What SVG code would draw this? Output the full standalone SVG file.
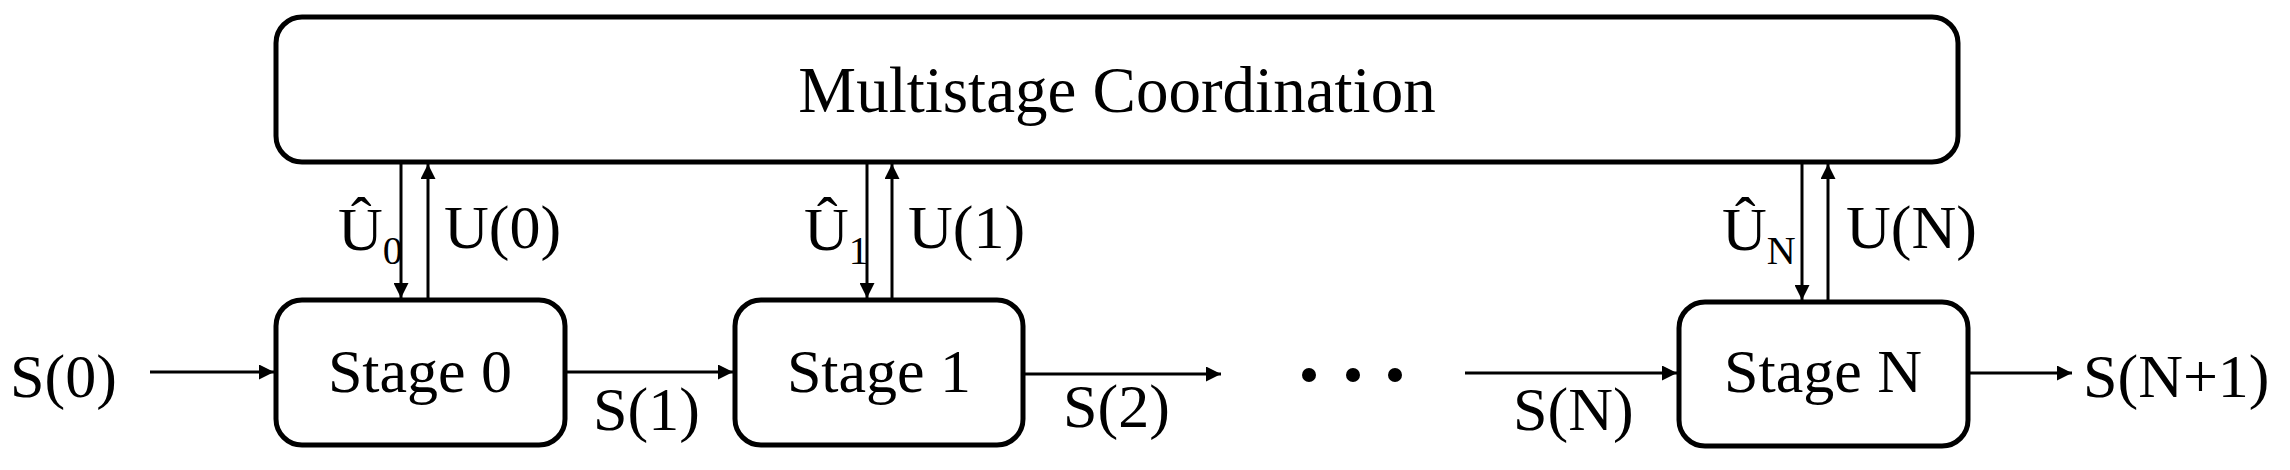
<svg xmlns="http://www.w3.org/2000/svg" width="2290" height="470" viewBox="0 0 2290 470">
<style>
.box{fill:#fff;stroke:#000;stroke-width:5}
.ln{stroke:#000;stroke-width:3;fill:none}
text{font-family:"Liberation Serif","Times New Roman",serif;font-size:62px;fill:#000}
.sub{font-size:40px}
</style>
<defs>
<marker id="ah" viewBox="0 0 10 10" refX="10" refY="5" markerWidth="6" markerHeight="5" markerUnits="strokeWidth" orient="auto"><path d="M0,0L10,5L0,10z" fill="#000"/></marker>
</defs>
<g id="coord"><rect class="box" x="276" y="17" width="1682" height="145" rx="26"/><text x="1117" y="112" text-anchor="middle" style="font-size:65px">Multistage Coordination</text></g>
<g id="stage0"><rect class="box" x="276" y="300" width="289" height="145" rx="26"/><text x="420" y="392" text-anchor="middle">Stage 0</text></g>
<g id="stage1"><rect class="box" x="735" y="300" width="288" height="145" rx="26"/><text x="879" y="392" text-anchor="middle">Stage 1</text></g>
<g id="stageN"><rect class="box" x="1679" y="302" width="289" height="144" rx="26"/><text x="1823" y="392" text-anchor="middle">Stage N</text></g>
<g id="connectors">
<line class="ln" x1="150" y1="372" x2="274" y2="372" marker-end="url(#ah)"/>
<line class="ln" x1="565" y1="372" x2="733" y2="372" marker-end="url(#ah)"/>
<line class="ln" x1="1023" y1="374" x2="1221" y2="374" marker-end="url(#ah)"/>
<line class="ln" x1="1465" y1="373" x2="1677" y2="373" marker-end="url(#ah)"/>
<line class="ln" x1="1968" y1="373" x2="2072" y2="373" marker-end="url(#ah)"/>
<line class="ln" x1="401" y1="162" x2="401" y2="298" marker-end="url(#ah)"/>
<line class="ln" x1="428" y1="298" x2="428" y2="164" marker-end="url(#ah)"/>
<line class="ln" x1="867" y1="162" x2="867" y2="298" marker-end="url(#ah)"/>
<line class="ln" x1="892" y1="298" x2="892" y2="164" marker-end="url(#ah)"/>
<line class="ln" x1="1802" y1="162" x2="1802" y2="300" marker-end="url(#ah)"/>
<line class="ln" x1="1828" y1="300" x2="1828" y2="164" marker-end="url(#ah)"/>
</g>
<g id="dots"><circle cx="1309" cy="375" r="7"/><circle cx="1353" cy="375" r="7"/><circle cx="1395" cy="375" r="7"/></g>
<g id="labels">
<text x="10" y="397">S(0)</text>
<text x="593" y="430">S(1)</text>
<text x="1063" y="427">S(2)</text>
<text x="1513" y="430">S(N)</text>
<text x="2083" y="397">S(N+1)</text>
<text x="338" y="250">Û<tspan class="sub" dy="14">0</tspan></text>
<text x="444" y="248">U(0)</text>
<text x="804" y="250">Û<tspan class="sub" dy="14">1</tspan></text>
<text x="908" y="248">U(1)</text>
<text x="1722" y="250">Û<tspan class="sub" dy="14">N</tspan></text>
<text x="1846" y="248">U(N)</text>
</g>
</svg>
